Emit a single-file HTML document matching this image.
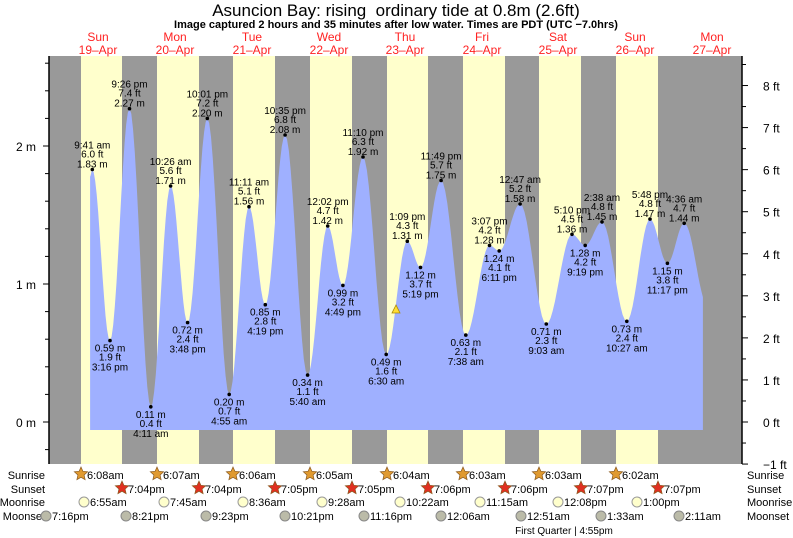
<!DOCTYPE html>
<html><head><meta charset="utf-8"><style>
html,body{margin:0;padding:0;background:#fff;}
svg{display:block;font-family:"Liberation Sans",sans-serif;}
</style></head><body>
<svg id="s" width="793" height="538" viewBox="0 0 793 538" xmlns="http://www.w3.org/2000/svg">
<rect width="793" height="538" fill="#fff"/>
<text x="396" y="16" font-size="17" text-anchor="middle" xml:space="preserve">Asuncion Bay: rising&#160; ordinary tide at 0.8m (2.6ft)</text>
<text x="396" y="28" font-size="11" font-weight="bold" text-anchor="middle">Image captured 2 hours and 35 minutes after low water. Times are PDT (UTC −7.0hrs)</text>
<g id="g"></g>
</svg>
<script>
var g=document.getElementById('g'),o='';
function X(t){return 61.6+3.167*t;}
function Y(m){return 422-138*m;}
o+='<rect x="49" y="56" width="693" height="408" fill="#999"/>';
var sr=[81,157,233,310,387,463,539,616],ss=[122,199,275,352,428,505,581,658];
for(var i=0;i<8;i++)o+='<rect x="'+sr[i]+'" y="56" width="'+(ss[i]-sr[i])+'" height="408" fill="#ffffcc"/>';
var d=[[9.68,1.83,'9:41 am','6.0'],[15.27,0.59,'3:16 pm','1.9'],[21.43,2.27,'9:26 pm','7.4'],[28.18,0.11,'4:11 am','0.4'],[34.43,1.71,'10:26 am','5.6'],[39.8,0.72,'3:48 pm','2.4'],[46.02,2.20,'10:01 pm','7.2'],[52.92,0.20,'4:55 am','0.7'],[59.18,1.56,'11:11 am','5.1'],[64.32,0.85,'4:19 pm','2.8'],[70.58,2.08,'10:35 pm','6.8'],[77.67,0.34,'5:40 am','1.1'],[84.03,1.42,'12:02 pm','4.7'],[88.82,0.99,'4:49 pm','3.2'],[95.17,1.92,'11:10 pm','6.3'],[102.5,0.49,'6:30 am','1.6'],[109.15,1.31,'1:09 pm','4.3'],[113.32,1.12,'5:19 pm','3.7'],[119.82,1.75,'11:49 pm','5.7'],[127.63,0.63,'7:38 am','2.1'],[135.12,1.28,'3:07 pm','4.2'],[138.18,1.24,'6:11 pm','4.1'],[144.78,1.58,'12:47 am','5.2'],[153.05,0.71,'9:03 am','2.3'],[161.17,1.36,'5:10 pm','4.5'],[165.32,1.28,'9:19 pm','4.2'],[170.63,1.45,'2:38 am','4.8'],[178.45,0.73,'10:27 am','2.4'],[185.8,1.47,'5:48 pm','4.8'],[191.28,1.15,'11:17 pm','3.8'],[196.6,1.44,'4:36 am','4.7']];
var pts=[[9,1.78]].concat(d.map(function(a){return [a[0],a[1]];}));
pts.push([202.5,0.9]);
var p='M'+X(9)+' 430';
for(var k=0;k<pts.length-1;k++){var a=pts[k],b=pts[k+1];var n=12;
 for(var j=(k==0?0:1);j<=n;j++){var f=j/n;var t=a[0]+(b[0]-a[0])*f;var m=a[1]+(b[1]-a[1])*(1-Math.cos(Math.PI*f))/2;
 if(k==pts.length-2){var per=7.5;m=1.44-(0.6)*(1-Math.cos(Math.PI*(t-196.6)/per))/2;}
 p+=' L'+X(t).toFixed(1)+' '+Y(m).toFixed(1);}}
p+=' L'+X(202.5).toFixed(1)+' 430 Z';
o+='<path d="'+p+'" fill="#9fb0ff"/>';
for(var i=0;i<d.length;i++){var a=d[i],x=X(a[0]),y=Y(a[1]);
 var prevv=i>0?d[i-1][1]:0;var hi=(i==0)?true:a[1]>prevv;
 o+='<circle cx="'+x.toFixed(1)+'" cy="'+y.toFixed(1)+'" r="1.8" fill="#000"/>';
 var ls=hi?[[a[2],-21],[a[3]+' ft',-12],[a[1].toFixed(2)+' m',-2]]:[[a[1].toFixed(2)+' m',11],[a[3]+' ft',20],[a[2],30]];
 ls.forEach(function(l){o+='<text x="'+x.toFixed(1)+'" y="'+(y+l[1]).toFixed(1)+'" font-size="10" text-anchor="middle">'+l[0]+'</text>';});}
o+='<polygon points="396,305 392,313 400,313" fill="#ffdd33" stroke="#aa8800" stroke-width="0.8"/>';
o+='<line x1="49" y1="56" x2="49" y2="464" stroke="#000" stroke-width="1.5"/>';
o+='<line x1="742" y1="56" x2="742" y2="464" stroke="#000" stroke-width="1.5"/>';
for(var m=-0.2;m<=2.6;m+=0.2){var y=Y(m);if(y<56||y>464)continue;var maj=Math.abs(m-Math.round(m))<0.01;o+='<line x1="'+(maj?43:45)+'" y1="'+y+'" x2="49" y2="'+y+'" stroke="#000"/>';
 if(maj)o+='<text x="36" y="'+(y+5)+'" font-size="12" text-anchor="end">'+Math.round(m)+' m</text>';}
for(var f=-1;f<=8.5;f+=0.5){var y=422-f*42.06;if(y<56||y>465)continue;var maj=f==Math.round(f);o+='<line x1="742" y1="'+y+'" x2="'+(maj?748:746)+'" y2="'+y+'" stroke="#000"/>';
 if(maj)o+='<text x="763" y="'+(y+5)+'" font-size="12">'+(f<0?'−1':f)+' ft</text>';}
var days=[['Sun','19–Apr',98],['Mon','20–Apr',175],['Tue','21–Apr',252],['Wed','22–Apr',329],['Thu','23–Apr',405],['Fri','24–Apr',482],['Sat','25–Apr',558],['Sun','26–Apr',635],['Mon','27–Apr',712]];
days.forEach(function(a){o+='<text x="'+a[2]+'" y="41" font-size="12" fill="#ff2222" text-anchor="middle">'+a[0]+'</text><text x="'+a[2]+'" y="54" font-size="12" fill="#ff2222" text-anchor="middle">'+a[1]+'</text>';});
var rows=[['Sunrise',479],['Sunset',493],['Moonrise',506],['Moonset',520]];
rows.forEach(function(r){o+='<text x="45" y="'+r[1]+'" font-size="11" text-anchor="end">'+r[0]+'</text><text x="747" y="'+r[1]+'" font-size="11">'+r[0]+'</text>';});
function star(cx,cy,fill){var s='';for(var i=0;i<10;i++){var ang=-Math.PI/2+i*Math.PI/5,r=i%2?3.3:7;s+=(cx+r*Math.cos(ang)).toFixed(1)+','+(cy+r*Math.sin(ang)).toFixed(1)+' ';}return '<polygon points="'+s+'" fill="'+fill+'" stroke="#8a5a20" stroke-width="0.7"/>';}
var srt=['6:08am','6:07am','6:06am','6:05am','6:04am','6:03am','6:03am','6:02am'];
var sst=['7:04pm','7:04pm','7:05pm','7:05pm','7:06pm','7:06pm','7:07pm','7:07pm'];
for(var i=0;i<8;i++){o+=star(sr[i],474,'#e09a30')+'<text x="'+(sr[i]+6)+'" y="479" font-size="11">'+srt[i]+'</text>';
 o+=star(ss[i],488,'#e03020')+'<text x="'+(ss[i]+6)+'" y="493" font-size="11">'+sst[i]+'</text>';}
var mr=[[84,'6:55am'],[164,'7:45am'],[243,'8:36am'],[322,'9:28am'],[400,'10:22am'],[480,'11:15am'],[558,'12:08pm'],[637,'1:00pm']];
mr.forEach(function(a){o+='<circle cx="'+a[0]+'" cy="502" r="5" fill="#ffffcc" stroke="#999"/><text x="'+(a[0]+6)+'" y="506" font-size="11">'+a[1]+'</text>';});
var ms=[[46,'7:16pm'],[126,'8:21pm'],[206,'9:23pm'],[285,'10:21pm'],[364,'11:16pm'],[441,'12:06am'],[521,'12:51am'],[601,'1:33am'],[679,'2:11am']];
ms.forEach(function(a){o+='<circle cx="'+a[0]+'" cy="516" r="5" fill="#bbbba8" stroke="#888"/><text x="'+(a[0]+6)+'" y="520" font-size="11">'+a[1]+'</text>';});
o+='<text x="564" y="534" font-size="10" text-anchor="middle">First Quarter | 4:55pm</text>';
g.innerHTML=o;
</script>
</body></html>
